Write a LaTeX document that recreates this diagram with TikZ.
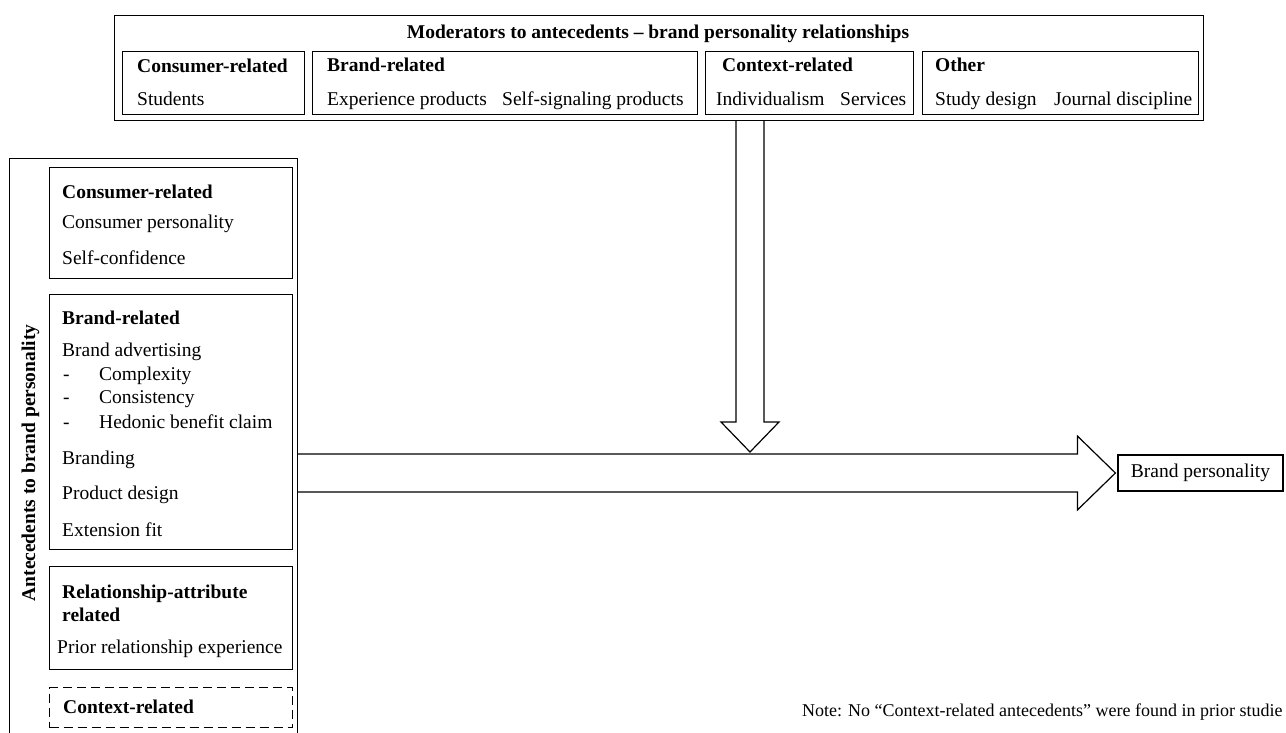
\documentclass[tikz,border=0pt]{standalone}
\usepackage{fontspec}
\setmainfont{Liberation Serif}
\usetikzlibrary{calc}
\begin{document}
\begin{tikzpicture}[x=1pt,y=-1pt,
  box/.style={draw, line width=1.2pt, inner sep=0, anchor=north west},
  dbox/.style={box, dash pattern=on 9pt off 5pt},
  txt/.style={font=\fontsize{19.5}{22}\selectfont, inner sep=0, anchor=west, text height=14pt, text depth=2pt},
  hdr/.style={txt, font=\fontsize{19.5}{22}\selectfont\bfseries},
  notetxt/.style={txt, font=\fontsize{18}{21}\selectfont},
  bigarrow/.style={draw, line width=1.2pt, fill=white, line join=miter}]
\useasboundingbox (0,0) rectangle (1286,733);

% ---------- moderators box ----------
\node[box, minimum width=1089pt, minimum height=105pt] (mod) at (114,15) {};
\node[hdr, anchor=center] (modt) at (658,33) {Moderators to antecedents -- brand personality relationships};

\node[box, minimum width=182pt, minimum height=63pt] (mc) at (122,51) {};
\node[hdr] (mch) at (137,67) {Consumer-related};
\node[txt] (mc1) at (137,100) {Students};

\node[box, minimum width=385pt, minimum height=63pt] (mb) at (312,51) {};
\node[hdr] (mbh) at (327,66) {Brand-related};
\node[txt] (mb1) at (327,100) {Experience products};
\node[txt] (mb2) at (502,100) {Self-signaling products};

\node[box, minimum width=208pt, minimum height=63pt] (mx) at (705,51) {};
\node[hdr] (mxh) at (722,66) {Context-related};
\node[txt] (mx1) at (716,100) {Individualism};
\node[txt] (mx2) at (840,100) {Services};

\node[box, minimum width=276pt, minimum height=63pt] (mo) at (922,51) {};
\node[hdr] (moh) at (935,66) {Other};
\node[txt] (mo1) at (935,100) {Study design};
\node[txt] (mo2) at (1054,100) {Journal discipline};

% ---------- antecedents column ----------
\node[box, minimum width=288pt, minimum height=620pt] (ante) at (9,158) {};
\node[hdr, anchor=center, rotate=90] (antet) at (29,463) {Antecedents to brand personality};

\node[box, minimum width=243pt, minimum height=111pt] (lc) at (49,167) {};
\node[hdr] (lch) at (62,192) {Consumer-related};
\node[txt] (lc1) at (62,223) {Consumer personality};
\node[txt] (lc2) at (62,258) {Self-confidence};

\node[box, minimum width=243pt, minimum height=255pt] (lb) at (49,294) {};
\node[hdr] (lbh) at (62,318) {Brand-related};
\node[txt] (lb1) at (62,350) {Brand advertising};
\node[txt] (lbd1) at (63,374) {-};
\node[txt] (lb1a) at (99,374) {Complexity};
\node[txt] (lbd2) at (63,397) {-};
\node[txt] (lb1b) at (99,397) {Consistency};
\node[txt] (lbd3) at (63,422) {-};
\node[txt] (lb1c) at (99,422) {Hedonic benefit claim};
\node[txt] (lb2) at (62,458) {Branding};
\node[txt] (lb3) at (62,493) {Product design};
\node[txt] (lb4) at (62,530) {Extension fit};

\node[box, minimum width=243pt, minimum height=103pt] (lr) at (49,566) {};
\node[hdr] (lrh1) at (62,592) {Relationship-attribute};
\node[hdr] (lrh2) at (62,615) {related};
\node[txt] (lr1) at (57,647) {Prior relationship experience};

\node[dbox, minimum width=243pt, minimum height=40pt] (lx) at (49,687) {};
\node[hdr] (lxh) at (63,707) {Context-related};

% ---------- outcome ----------
\node[draw, line width=1.2pt, inner sep=0, minimum width=165pt, minimum height=36pt,
      font=\fontsize{19.5}{22}\selectfont] (bp) at (1200.5,473) {Brand personality};

% ---------- arrows ----------
\coordinate (hs) at (ante.east |- bp.west);
\coordinate (htip) at ($(bp.west)+(-2,0)$);
\draw[bigarrow] ($(hs)+(0,-19)$) -- ($(htip)+(-38,-19)$) -- ($(htip)+(-38,-37)$)
   -- (htip) -- ($(htip)+(-38,37)$) -- ($(htip)+(-38,19)$) -- ($(hs)+(0,19)$);

\coordinate (vtop) at (mod.south -| 750,0);
\coordinate (vbase) at (750,0 |- hs);
\coordinate (vtip) at ($(vbase)+(0,-21)$);
\draw[bigarrow] ($(vtop)+(-14,0)$) -- ($(vtip)+(-14,-30)$) -- ($(vtip)+(-29,-30)$)
   -- (vtip) -- ($(vtip)+(29,-30)$) -- ($(vtip)+(14,-30)$) -- ($(vtop)+(14,0)$);

% ---------- note ----------
\node[notetxt] (note) at (802,710) {Note: No “Context-related antecedents” were found in prior studie};
\end{tikzpicture}
\end{document}
